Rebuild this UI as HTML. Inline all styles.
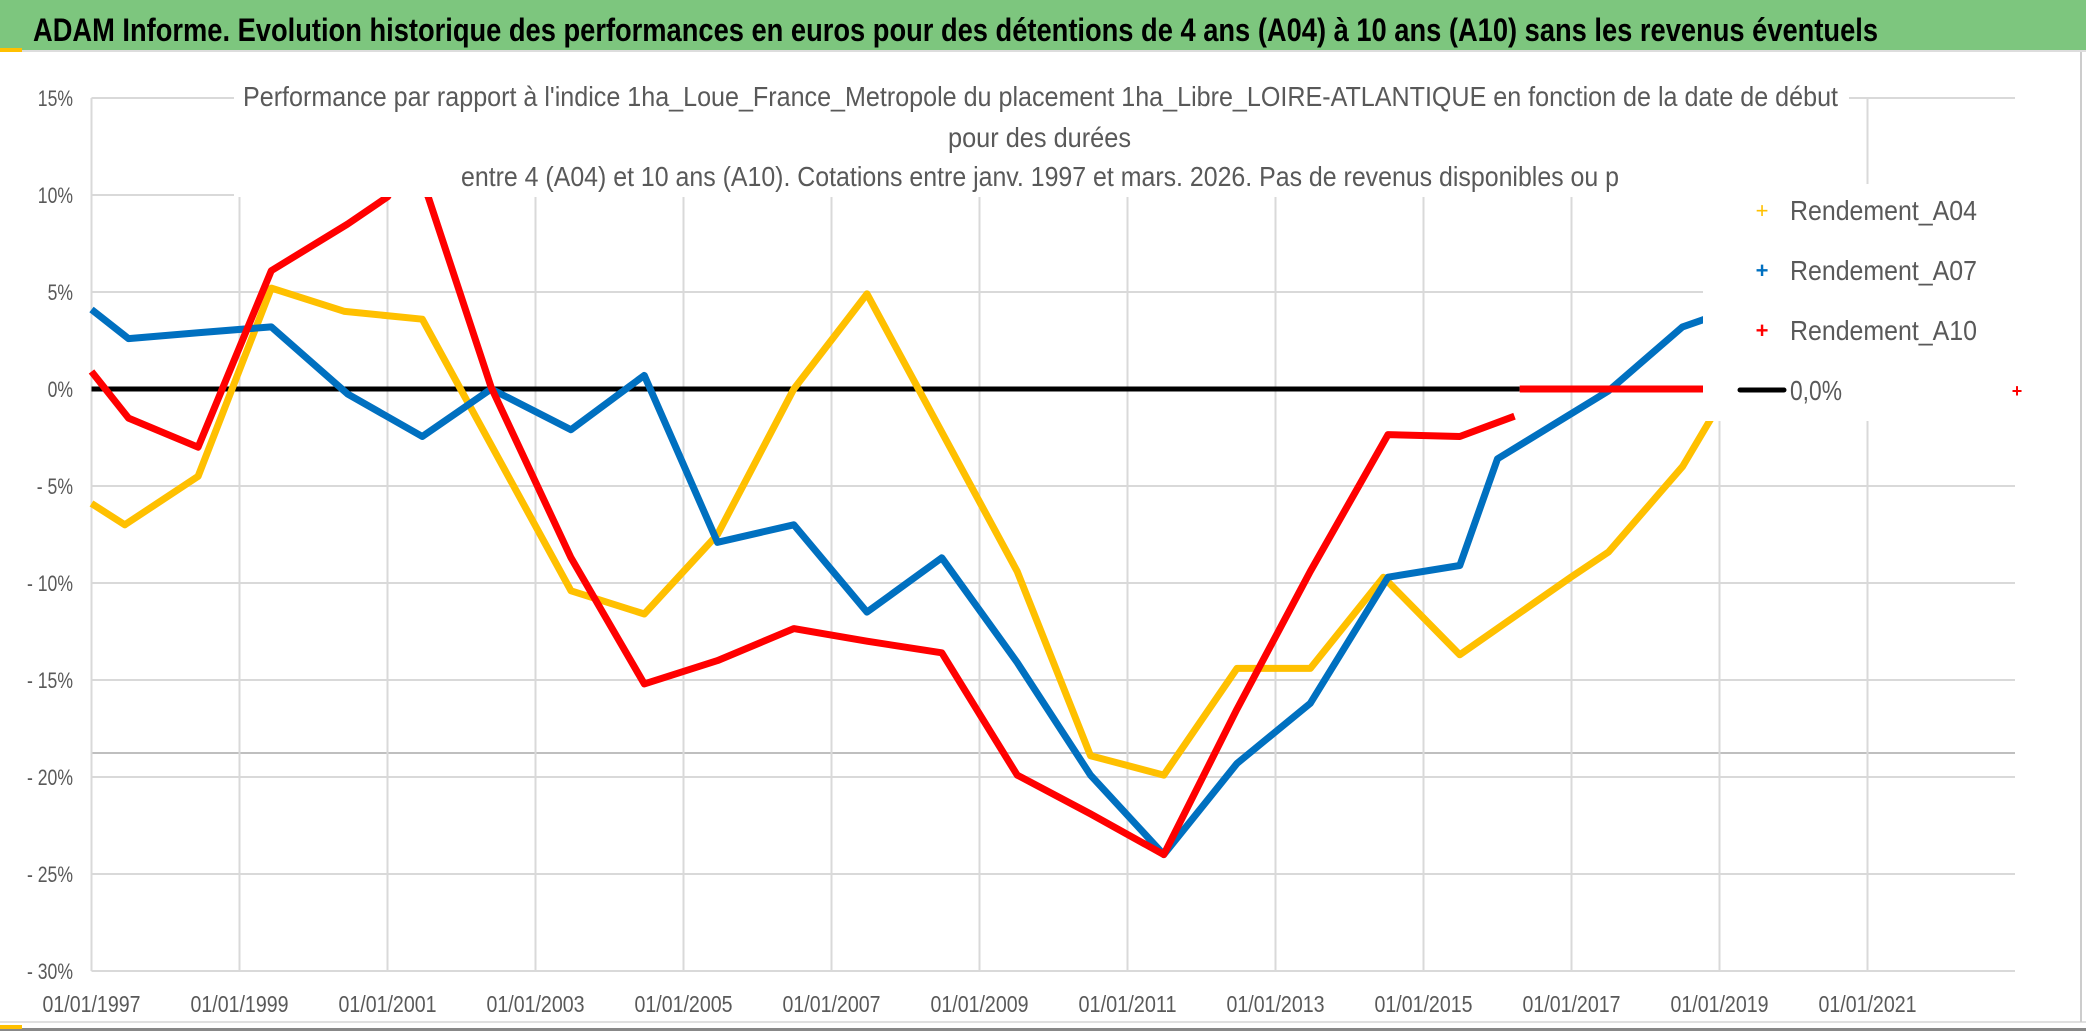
<!DOCTYPE html>
<html><head><meta charset="utf-8"><style>
html,body{margin:0;padding:0;background:#fff;}
svg{display:block;font-family:"Liberation Sans Narrow","Liberation Sans",sans-serif;}
</style></head><body>
<svg id="chart" width="2086" height="1031" viewBox="0 0 2086 1031" xmlns="http://www.w3.org/2000/svg">
<rect x="0" y="0" width="2086" height="1031" fill="#fff"/>
<rect x="0" y="0" width="2086" height="50" fill="#7DC67E"/>
<line x1="0" y1="51" x2="2086" y2="51" stroke="#ddd" stroke-width="2"/>
<rect x="0" y="48" width="22" height="4" fill="#FFC000"/>
<rect x="0" y="1021" width="2086" height="2" fill="#e0e0e0"/>
<rect x="0" y="1028" width="2086" height="3" fill="#888"/>
<rect x="0" y="1025" width="22" height="4" fill="#FFC000"/>
<line x1="2081" y1="52" x2="2081" y2="1022" stroke="#ccc" stroke-width="2"/>
<text x="33" y="41" font-size="32" font-weight="bold" fill="#000" textLength="1845" lengthAdjust="spacingAndGlyphs">ADAM Informe. Evolution historique des performances en euros pour des détentions de 4 ans (A04) à 10 ans (A10) sans les revenus éventuels</text>
<g id="grid"></g>
<g id="series"></g>
<rect x="234" y="86" width="1615" height="111" fill="#fff"/>
<text x="243" y="106" font-size="28" fill="#595959" textLength="1595" lengthAdjust="spacingAndGlyphs">Performance  par rapport à l'indice 1ha_Loue_France_Metropole  du placement 1ha_Libre_LOIRE-ATLANTIQUE en fonction de la date de début</text>
<text x="948" y="147" font-size="28" fill="#595959" textLength="183" lengthAdjust="spacingAndGlyphs">pour des durées</text>
<text x="461" y="186" font-size="28" fill="#595959" textLength="1158" lengthAdjust="spacingAndGlyphs">entre 4 (A04) et 10 ans (A10). Cotations entre janv. 1997 et mars. 2026. Pas de revenus disponibles ou p</text>
<g>
<rect x="1703" y="184" width="312" height="237" fill="#fff"/>
<text x="1762" y="218" font-size="22" fill="#FFC000" text-anchor="middle">+</text>
<text x="1790" y="220" font-size="28" fill="#595959" textLength="187" lengthAdjust="spacingAndGlyphs">Rendement_A04</text>
<text x="1762" y="278" font-size="22" fill="#0070C0" text-anchor="middle" font-weight="bold">+</text>
<text x="1790" y="280" font-size="28" fill="#595959" textLength="187" lengthAdjust="spacingAndGlyphs">Rendement_A07</text>
<text x="1762" y="338" font-size="22" fill="#FF0000" text-anchor="middle" font-weight="bold">+</text>
<text x="1790" y="340" font-size="28" fill="#595959" textLength="187" lengthAdjust="spacingAndGlyphs">Rendement_A10</text>
<line x1="1740" y1="390" x2="1784" y2="390" stroke="#000" stroke-width="5" stroke-linecap="round"/>
<text x="1790" y="400" font-size="28" fill="#595959" textLength="52" lengthAdjust="spacingAndGlyphs">0,0%</text>
<text x="2017" y="397" font-size="18" fill="#FF0000" text-anchor="middle" font-weight="bold">+</text>
</g>
</svg>
<script>
const yTicks = [15, 10, 5, 0, -5, -10, -15, -20, -25, -30];
const yTickLabels = ["15%", "10%", "5%", "0%", "- 5%", "- 10%", "- 15%", "- 20%", "- 25%", "- 30%"];
const xTicks = [1997, 1999, 2001, 2003, 2005, 2007, 2009, 2011, 2013, 2015, 2017, 2019, 2021];
const xTickLabels = ["01/01/1997","01/01/1999","01/01/2001","01/01/2003","01/01/2005","01/01/2007","01/01/2009","01/01/2011","01/01/2013","01/01/2015","01/01/2017","01/01/2019","01/01/2021"];
const a04Dates = [1997.0,1997.45,1998.44,1999.43,2000.42,2001.47,2003.48,2004.47,2005.46,2006.49,2007.48,2009.51,2010.5,2011.49,2012.48,2013.47,2014.46,2015.49,2016.99,2017.5,2018.5,2019.2];
const a04Values = [-5.9,-7.0,-4.5,5.2,4.0,3.6,-10.4,-11.6,-7.5,0,4.9,-9.4,-18.9,-19.9,-14.4,-14.4,-9.7,-13.7,-9.7,-8.4,-4.0,0.5];
const a07Dates = [1997.0,1997.5,1998.44,1999.43,2000.46,2001.47,2002.4,2003.48,2004.47,2005.46,2006.49,2007.48,2008.49,2009.51,2010.5,2011.49,2012.48,2013.47,2014.52,2015.49,2016.0,2017.5,2018.5,2018.8];
const a07Values = [4.1,2.6,2.9,3.2,-0.25,-2.45,0,-2.1,0.7,-7.9,-7.0,-11.5,-8.7,-14.1,-19.9,-24.0,-19.3,-16.2,-9.7,-9.1,-3.6,-0.1,3.2,3.6];
const a10Dates = [1997.0,1997.5,1998.44,1999.43,2000.46,2001.0,2001.3,2001.55,2002.4,2003.48,2004.47,2005.46,2006.49,2007.48,2008.49,2009.51,2010.5,2011.49,2012.48,2013.47,2014.52,2015.49,2016.23];
const a10Values = [0.9,-1.5,-3.0,6.1,8.5,9.9,12,9.9,0.1,-8.7,-15.2,-14.0,-12.35,-13.0,-13.6,-19.9,-21.9,-24.0,-16.5,-9.4,-2.35,-2.45,-1.4];
const a10ZeroDates = [2016.3, 2018.8];
const a10ZeroValues = [0, 0];

const NS = "http://www.w3.org/2000/svg";
const X0 = 91.5, X1 = 2015, Y0 = 98, Y1 = 971;
function xs(d){ return X0 + (d - 1997) * 74; }
function ys(v){ return Y0 + (15 - v) * (Y1 - Y0) / 45; }
function mk(tag, attrs, parent){ const e = document.createElementNS(NS, tag); for (const k in attrs) e.setAttribute(k, attrs[k]); parent.appendChild(e); return e; }
function squeeze(t, f){ const w = t.getComputedTextLength(); t.setAttribute('textLength', (w * f).toFixed(1)); t.setAttribute('lengthAdjust', 'spacingAndGlyphs'); }

const grid = document.getElementById('grid');
yTicks.forEach((t, i) => {
  const ln = mk('line', {x1: X0, x2: X1, y1: ys(t), y2: ys(t), stroke: '#d9d9d9', 'stroke-width': 2}, grid);
  
  
  const tx = mk('text', {x: 73, y: ys(t) + 8, 'font-size': 22, fill: '#595959', 'text-anchor': 'end'}, grid);
  tx.textContent = yTickLabels[i];
  
  
  squeeze(tx, 0.8);
});
const extra = mk('line', {x1: X0, x2: X1, y1: 753, y2: 753, stroke: '#bfbfbf', 'stroke-width': 2}, grid);


xTicks.forEach((t, i) => {
  const ln = mk('line', {x1: xs(t), x2: xs(t), y1: Y0, y2: Y1, stroke: '#d9d9d9', 'stroke-width': 2}, grid);
  
  
  const tx = mk('text', {x: xs(t), y: 1012, 'font-size': 23, fill: '#595959', 'text-anchor': 'middle'}, grid);
  tx.textContent = xTickLabels[i];
  
  
  tx.setAttribute('textLength', '98');
  tx.setAttribute('lengthAdjust', 'spacingAndGlyphs');
});

const ser = document.getElementById('series');
const zero = mk('line', {x1: X0, x2: xs(2016.3), y1: ys(0), y2: ys(0), stroke: '#000', 'stroke-width': 5}, ser);


function drawLine(dates, vals, color, name){
  const pts = dates.map((d, i) => xs(d).toFixed(1) + ',' + ys(vals[i]).toFixed(1)).join(' ');
  const p = mk('polyline', {points: pts, fill: 'none', stroke: color, 'stroke-width': 7, 'stroke-linejoin': 'round'}, ser);
  
  
}
drawLine(a04Dates, a04Values, '#FFC000', 'series-a04');
drawLine(a07Dates, a07Values, '#0070C0', 'series-a07');
drawLine(a10Dates, a10Values, '#FF0000', 'series-a10');
drawLine(a10ZeroDates, a10ZeroValues, '#FF0000', 'series-a10-zero');
</script>
</body></html>
